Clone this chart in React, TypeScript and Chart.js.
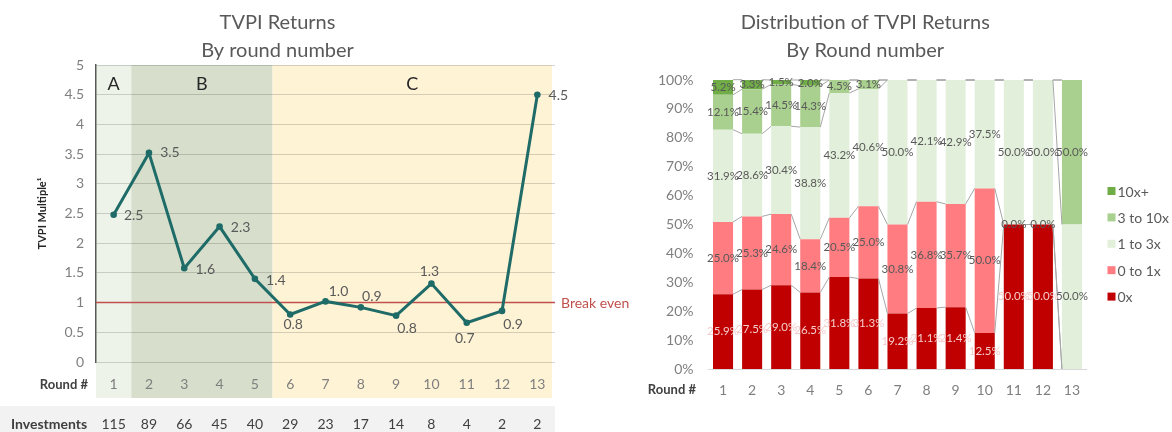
import React, { useEffect, useRef } from 'react';
import { Chart, registerables } from 'chart.js';

Chart.register(...registerables);

const FONT = 'Lato, "Open Sans", "DejaVu Sans", sans-serif';
Chart.defaults.font.family = FONT;

// ---------------- Left chart data ----------------
const ROUNDS = ['1', '2', '3', '4', '5', '6', '7', '8', '9', '10', '11', '12', '13'];
const TVPI = [2.48, 3.52, 1.58, 2.28, 1.4, 0.8, 1.02, 0.92, 0.78, 1.32, 0.66, 0.86, 4.5];
const INVESTMENTS = [115, 89, 66, 45, 40, 29, 23, 17, 14, 8, 4, 2, 2];
const BREAK_EVEN = 1;
const TVPI_MAX = 5;
const TVPI_STEP = 0.5;
const STAGE_NAMES = ['A', 'B', 'C'];
const STAGE_FIRST_ROUND = [1, 2, 6];
const STAGE_LAST_ROUND = [1, 5, 13];

// ---------------- Right chart data ----------------
const SERIES_NAMES = ['0x', '0 to 1x', '1 to 3x', '3 to 10x', '10x+'];
const PCT_0X = [25.9, 27.5, 29.0, 26.5, 31.8, 31.3, 19.2, 21.1, 21.4, 12.5, 50.0, 50.0, null];
const PCT_0_1X = [25.0, 25.3, 24.6, 18.4, 20.5, 25.0, 30.8, 36.8, 35.7, 50.0, 0.0, 0.0, null];
const PCT_1_3X = [31.9, 28.6, 30.4, 38.8, 43.2, 40.6, 50.0, 42.1, 42.9, 37.5, 50.0, 50.0, 50.0];
const PCT_3_10X = [12.1, 15.4, 14.5, 14.3, 4.5, 3.1, null, null, null, null, null, null, 50.0];
const PCT_10X = [5.2, 3.3, 1.5, 2.0, null, null, null, null, null, null, null, null, null];
const PCT_TICK_MAX = 100;
const PCT_TICK_STEP = 10;

// ---------------- Styles ----------------
const SERIES_COLORS = ['#C00000', '#FF7C80', '#E2EFDA', '#A9D08E', '#70AD47'];
const SERIES_LABEL_COLORS = ['#F4CCCC', '#595959', '#595959', '#595959', '#595959'];
const STAGE_COLORS = ['#EEF3EA', '#D7DFCC', '#FFF3D6'];
// label offsets (dx, dy) relative to each point of the TVPI line
const TVPI_LABEL_DX = [20, 21, 21, 21, 21, 3, 13, 11, 11, -2, -2, 11, 21];
const TVPI_LABEL_DY = [1, 0, 1, 1, 2, 10, -10, -11, 13, -12, 16, 14, 1];

const TEXT_GRAY = '#595959';
const TICK_GRAY = '#7F7F7F';
const DARK = '#404040';

function ChartCanvas({ makeConfig, style }: { makeConfig: () => any; style: React.CSSProperties }) {
  const ref = useRef<HTMLCanvasElement | null>(null);
  useEffect(() => {
    if (!ref.current) return;
    const chart = new Chart(ref.current, makeConfig());
    return () => chart.destroy();
  }, []);
  return (
    <div style={{ position: 'absolute', ...style }}>
      <canvas ref={ref} />
    </div>
  );
}

const leftDecor = {
  id: 'leftDecor',
  beforeDraw(chart: any) {
    const { ctx, chartArea: area } = chart;
    const xs = chart.scales.x;
    const n = ROUNDS.length;
    const px = (i: number) => xs.getPixelForValue(i);
    ctx.save();
    // stage bands
    STAGE_NAMES.forEach((name, s) => {
      const f = STAGE_FIRST_ROUND[s] - 1;
      const l = STAGE_LAST_ROUND[s] - 1;
      const x0 = f === 0 ? area.left : (px(f - 1) + px(f)) / 2;
      const x1 = l === n - 1 ? area.right - 3 : (px(l) + px(l + 1)) / 2;
      ctx.fillStyle = STAGE_COLORS[s];
      ctx.fillRect(x0, area.top, x1 - x0, area.bottom - area.top + 36);
      ctx.fillStyle = '#262626';
      ctx.font = `18px ${FONT}`;
      ctx.textAlign = 'center';
      ctx.textBaseline = 'middle';
      ctx.fillText(name, (x0 + x1) / 2, area.top + 19);
    });
    // investments band
    ctx.fillStyle = '#F2F2F2';
    ctx.fillRect(0, area.bottom + 44, area.right, 30);
    ctx.fillStyle = DARK;
    ctx.font = `bold 14px ${FONT}`;
    ctx.textAlign = 'left';
    ctx.textBaseline = 'middle';
    ctx.fillText('Investments', 11, area.bottom + 62);
    ctx.font = `14px ${FONT}`;
    ctx.textAlign = 'center';
    INVESTMENTS.forEach((v, i) => ctx.fillText(String(v), px(i), area.bottom + 62));
    ctx.font = `bold 13px ${FONT}`;
    ctx.textAlign = 'right';
    ctx.fillText('Round #', 88, area.bottom + 23);
    ctx.restore();
  },
  beforeDatasetsDraw(chart: any) {
    const { ctx, chartArea: area } = chart;
    const y = chart.scales.y.getPixelForValue(BREAK_EVEN);
    ctx.save();
    ctx.strokeStyle = '#C0504D';
    ctx.lineWidth = 1.5;
    ctx.beginPath();
    ctx.moveTo(area.left, y);
    ctx.lineTo(area.right, y);
    ctx.stroke();
    ctx.fillStyle = '#C0504D';
    ctx.font = `14px ${FONT}`;
    ctx.textAlign = 'left';
    ctx.textBaseline = 'middle';
    ctx.fillText('Break even', area.right + 6, y + 1);
    ctx.restore();
  },
  afterDatasetsDraw(chart: any) {
    const { ctx } = chart;
    const meta = chart.getDatasetMeta(0);
    ctx.save();
    ctx.fillStyle = TEXT_GRAY;
    ctx.font = `14px ${FONT}`;
    ctx.textAlign = 'center';
    ctx.textBaseline = 'middle';
    meta.data.forEach((el: any, i: number) => {
      ctx.fillText(TVPI[i].toFixed(1), el.x + TVPI_LABEL_DX[i], el.y + TVPI_LABEL_DY[i]);
    });
    ctx.restore();
  },
};

function leftConfig() {
  return {
    type: 'line',
    data: {
      labels: ROUNDS,
      datasets: [
        {
          label: 'TVPI',
          data: TVPI,
          borderColor: '#1E6B67',
          backgroundColor: '#1E6B67',
          borderWidth: 3,
          pointRadius: 1.8,
          pointBackgroundColor: '#1E6B67',
          tension: 0,
        },
      ],
    },
    options: {
      responsive: true,
      maintainAspectRatio: false,
      animation: false,
      layout: { padding: { left: 0, right: 105, top: 0, bottom: 0 } },
      plugins: {
        legend: { display: false },
        tooltip: { enabled: false },
        title: {
          display: true,
          text: ['TVPI Returns', 'By round number'],
          color: TEXT_GRAY,
          font: { size: 20, weight: 'normal', lineHeight: 1.4, family: FONT },
          padding: { top: 9, bottom: 0 },
        },
      },
      scales: {
        x: {
          offset: true,
          grid: { display: false, drawTicks: false },
          border: { display: false },
          ticks: { color: TICK_GRAY, font: { size: 14 }, padding: 14 },
          afterFit: (s: any) => {
            s.height = 70;
          },
        },
        y: {
          min: 0,
          max: TVPI_MAX,
          ticks: {
            stepSize: TVPI_STEP,
            color: TICK_GRAY,
            font: { size: 14 },
            padding: 12,
            callback: (v: any) => String(Math.round(Number(v) * 10) / 10),
          },
          grid: { color: 'rgba(0,0,0,0.16)', drawTicks: false },
          border: { display: true, color: '#595959', width: 1.5 },
          title: {
            display: true,
            text: 'TVPI Multiple¹',
            color: '#262626',
            font: { size: 11, weight: 'bold' },
            padding: { top: 36, bottom: 0 },
          },
          afterFit: (s: any) => {
            s.width = 96;
          },
        },
      },
    },
    plugins: [leftDecor],
  };
}

const SERIES_VALUES = [PCT_0X, PCT_0_1X, PCT_1_3X, PCT_3_10X, PCT_10X];

const rightDecor = {
  id: 'rightDecor',
  afterDatasetsDraw(chart: any) {
    const { ctx } = chart;
    const ys = chart.scales.y;
    const xs = chart.scales.x;
    const n = ROUNDS.length;
    const refMeta = chart.getDatasetMeta(2);
    const bw = refMeta.data[0].width;
    ctx.save();
    // series lines
    ctx.strokeStyle = '#A6A6A6';
    ctx.lineWidth = 1;
    const cum = new Array(n).fill(0);
    SERIES_VALUES.forEach((vals) => {
      for (let k = 0; k < n; k++) cum[k] += vals[k] || 0;
      ctx.beginPath();
      for (let k = 0; k < n - 1; k++) {
        ctx.moveTo(xs.getPixelForValue(k) + bw / 2, ys.getPixelForValue(cum[k]));
        ctx.lineTo(xs.getPixelForValue(k + 1) - bw / 2, ys.getPixelForValue(cum[k + 1]));
      }
      ctx.stroke();
    });
    // data labels
    ctx.font = `11.5px ${FONT}`;
    ctx.textAlign = 'center';
    ctx.textBaseline = 'middle';
    SERIES_VALUES.forEach((vals, d) => {
      const meta = chart.getDatasetMeta(d);
      ctx.fillStyle = SERIES_LABEL_COLORS[d];
      meta.data.forEach((el: any, k: number) => {
        const v = vals[k];
        if (v === null || v === undefined) return;
        ctx.fillText(v.toFixed(1) + '%', el.x, (el.y + el.base) / 2);
      });
    });
    ctx.restore();
  },
  afterDraw(chart: any) {
    const { ctx, chartArea: area } = chart;
    ctx.save();
    // Round # label
    ctx.fillStyle = DARK;
    ctx.font = `bold 13px ${FONT}`;
    ctx.textAlign = 'right';
    ctx.textBaseline = 'middle';
    ctx.fillText('Round #', 52, area.bottom + 21);
    // legend (top = last series)
    ctx.font = `14px ${FONT}`;
    ctx.textAlign = 'left';
    for (let r = 0; r < SERIES_NAMES.length; r++) {
      const d = SERIES_NAMES.length - 1 - r;
      const y = 191 + r * 26.4;
      ctx.fillStyle = SERIES_COLORS[d];
      ctx.fillRect(area.right + 21, y - 4, 8, 8);
      ctx.fillStyle = TEXT_GRAY;
      ctx.fillText(SERIES_NAMES[d], area.right + 31, y + 1);
    }
    ctx.restore();
  },
};

function rightConfig() {
  return {
    type: 'bar',
    data: {
      labels: ROUNDS,
      datasets: SERIES_NAMES.map((name, i) => ({
        label: name,
        data: SERIES_VALUES[i],
        backgroundColor: SERIES_COLORS[i],
        borderWidth: 0,
        barPercentage: 0.69,
        categoryPercentage: 1,
      })),
    },
    options: {
      responsive: true,
      maintainAspectRatio: false,
      animation: false,
      layout: { padding: { left: 0, right: 85.5, top: 0, bottom: 0 } },
      plugins: {
        legend: { display: false },
        tooltip: { enabled: false },
        title: {
          display: true,
          text: ['Distribution of TVPI Returns', 'By Round number'],
          color: TEXT_GRAY,
          font: { size: 20, weight: 'normal', lineHeight: 1.4, family: FONT },
          padding: { top: 9, bottom: 15 },
        },
      },
      scales: {
        x: {
          stacked: true,
          grid: { display: false, drawTicks: false },
          border: { display: true, color: '#D9D9D9' },
          ticks: { color: TICK_GRAY, font: { size: 14 }, padding: 13 },
          afterFit: (s: any) => {
            s.height = 63;
          },
        },
        y: {
          stacked: true,
          min: 0,
          max: PCT_TICK_MAX,
          ticks: {
            stepSize: PCT_TICK_STEP,
            color: TICK_GRAY,
            font: { size: 14 },
            padding: 15,
            callback: (v: any) => v + '%',
          },
          grid: { display: false, drawTicks: false },
          border: { display: false },
          afterFit: (s: any) => {
            s.width = 64.5;
          },
        },
      },
    },
    plugins: [rightDecor],
  };
}

export default function App() {
  return (
    <div style={{ position: 'absolute', left: 0, top: 0, width: 1172, height: 432, background: '#fff', overflow: 'hidden' }}>
      <ChartCanvas makeConfig={leftConfig} style={{ left: 0, top: 0, width: 660, height: 432 }} />
      <ChartCanvas makeConfig={rightConfig} style={{ left: 644, top: 0, width: 528, height: 432 }} />
    </div>
  );
}
